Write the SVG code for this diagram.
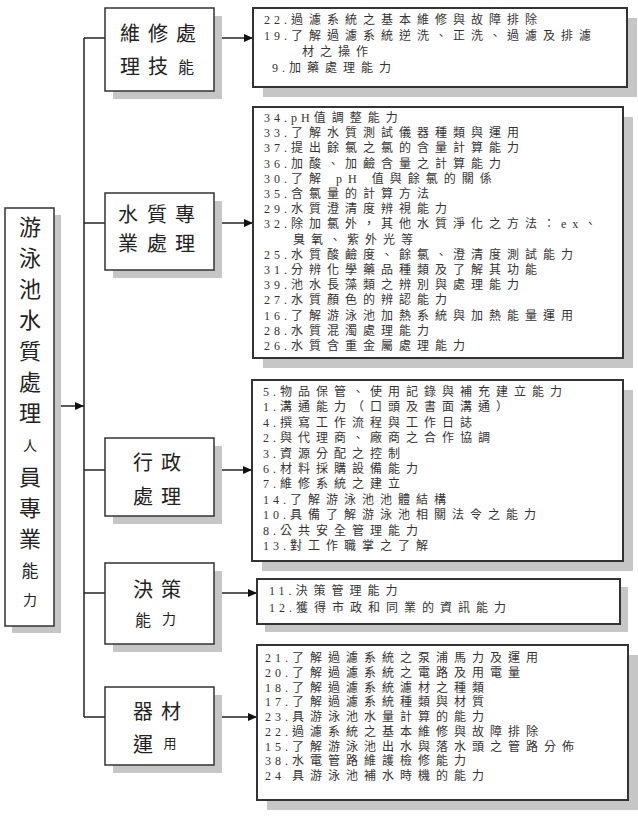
<svg xmlns="http://www.w3.org/2000/svg" width="638" height="823" viewBox="0 0 638 823">
<style>
.bg{fill:#ffffff}
.sh{fill:#c6c6c6}
.box{fill:#ffffff;stroke:#333333;stroke-width:1.5}
.tbox{fill:#ffffff;stroke:#333333;stroke-width:2}
.ln{stroke:#222222;stroke-width:1.5;fill:none}
.t{font-family:"Liberation Serif","Noto Sans CJK TC",serif;font-size:12px;letter-spacing:6px;fill:#333333}
.n{letter-spacing:4px}
.big{font-family:"Noto Sans CJK TC",sans-serif;font-size:22px;fill:#222222;text-anchor:middle}
.cat{font-family:"Noto Sans CJK TC",sans-serif;font-size:20px;fill:#222222;text-anchor:middle}
</style>
<defs>
<marker id="ah" markerWidth="9" markerHeight="8" refX="9" refY="4" orient="auto" markerUnits="userSpaceOnUse">
<path d="M0,0 L9,4 L0,8 Z" fill="#111111"/>
</marker>
</defs>
<rect class="bg" x="0" y="0" width="638" height="823"/>

<g id="connectors">
<line class="ln" x1="61" y1="406" x2="84" y2="406" marker-end="url(#ah)"/>
<line class="ln" x1="84" y1="38" x2="84" y2="717"/>
<line class="ln" x1="84" y1="38" x2="105" y2="38"/>
<line class="ln" x1="84" y1="223" x2="105" y2="223"/>
<line class="ln" x1="84" y1="470" x2="105" y2="470"/>
<line class="ln" x1="84" y1="593" x2="105" y2="593"/>
<line class="ln" x1="84" y1="717" x2="105" y2="717"/>
<line class="ln" x1="214" y1="38" x2="253" y2="38" marker-end="url(#ah)"/>
<line class="ln" x1="214" y1="223" x2="253" y2="223" marker-end="url(#ah)"/>
<line class="ln" x1="214" y1="470" x2="252" y2="470" marker-end="url(#ah)"/>
<line class="ln" x1="214" y1="593" x2="257" y2="593" marker-end="url(#ah)"/>
<line class="ln" x1="214" y1="717" x2="257" y2="717" marker-end="url(#ah)"/>
</g>

<g id="root">
<rect class="sh" x="12" y="215" width="49" height="418"/>
<rect class="box" x="5" y="208" width="49" height="418"/>
<text class="big" x="30 30 30 30 30 30 30" y="235 266 297 328 359 390 421">游泳池水質處理</text>
<text class="big" x="30" y="451" style="font-size:14px">人</text>
<text class="big" x="30 30 30" y="485 516 547">員專業</text>
<text class="big" x="30" y="577" style="font-size:17px">能</text>
<text class="big" x="30" y="605" style="font-size:14px">力</text>
</g>

<g id="cat1">
<rect class="sh" x="113" y="16" width="109" height="83"/>
<rect class="box" x="105" y="8" width="109" height="83"/>
<text class="cat" x="130 158 186" y="41">維修處</text>
<text class="cat" x="130 158" y="74">理技</text>
<text class="cat" x="186" y="73" style="font-size:16px">能</text>
</g>

<g id="cat2">
<rect class="sh" x="113" y="201" width="109" height="77"/>
<rect class="box" x="105" y="193" width="109" height="77"/>
<text class="cat" x="128 157 185" y="222">水質專</text>
<text class="cat" x="128 157 185" y="251">業處理</text>
</g>

<g id="cat3">
<rect class="sh" x="113" y="446" width="109" height="78"/>
<rect class="box" x="105" y="438" width="109" height="78"/>
<text class="cat" x="143 171" y="470">行政</text>
<text class="cat" x="143 171" y="504">處理</text>
</g>

<g id="cat4">
<rect class="sh" x="113" y="571" width="109" height="81"/>
<rect class="box" x="105" y="563" width="109" height="81"/>
<text class="cat" x="143 171" y="597">決策</text>
<text class="cat" x="143" y="626" style="font-size:16px">能</text>
<text class="cat" x="169" y="624" style="font-size:14px">力</text>
</g>

<g id="cat5">
<rect class="sh" x="113" y="695" width="109" height="78"/>
<rect class="box" x="105" y="687" width="109" height="78"/>
<text class="cat" x="143 171" y="719">器材</text>
<text class="cat" x="143" y="752">運</text>
<text class="cat" x="170" y="748" style="font-size:13px">用</text>
</g>

<g id="list1">
<rect class="sh" x="263" y="18" width="374" height="79"/>
<rect class="tbox" x="253" y="8" width="374" height="79"/>
<text class="t" x="264" y="24"><tspan class="n">22.</tspan>過濾系統之基本維修與故障排除</text>
<text class="t" x="264" y="40"><tspan class="n">19.</tspan>了解過濾系統逆洗、正洗、過濾及排濾</text>
<text class="t" x="302" y="56">材之操作</text>
<text class="t" x="272" y="72"><tspan class="n">9.</tspan>加藥處理能力</text>
</g>

<g id="list2">
<rect class="sh" x="263" y="117" width="370" height="251"/>
<rect class="tbox" x="253" y="107" width="370" height="251"/>
<text class="t" x="264" y="122"><tspan class="n">34.pH</tspan>值調整能力</text>
<text class="t" x="264" y="137.2"><tspan class="n">33.</tspan>了解水質測試儀器種類與運用</text>
<text class="t" x="264" y="152.4"><tspan class="n">37.</tspan>提出餘氯之氯的含量計算能力</text>
<text class="t" x="264" y="167.6"><tspan class="n">36.</tspan>加酸、加鹼含量之計算能力</text>
<text class="t" x="264" y="182.8"><tspan class="n">30.</tspan>了解 pH 值與餘氯的關係</text>
<text class="t" x="264" y="198"><tspan class="n">35.</tspan>含氯量的計算方法</text>
<text class="t" x="264" y="213.2"><tspan class="n">29.</tspan>水質澄清度辨視能力</text>
<text class="t" x="264" y="228.4"><tspan class="n">32.</tspan>除加氯外，其他水質淨化之方法：ex、</text>
<text class="t" x="293" y="243.6">臭氧、紫外光等</text>
<text class="t" x="264" y="258.8"><tspan class="n">25.</tspan>水質酸鹼度、餘氯、澄清度測試能力</text>
<text class="t" x="264" y="274"><tspan class="n">31.</tspan>分辨化學藥品種類及了解其功能</text>
<text class="t" x="264" y="289.2"><tspan class="n">39.</tspan>池水長藻類之辨別與處理能力</text>
<text class="t" x="264" y="304.4"><tspan class="n">27.</tspan>水質顏色的辨認能力</text>
<text class="t" x="264" y="319.6"><tspan class="n">16.</tspan>了解游泳池加熱系統與加熱能量運用</text>
<text class="t" x="264" y="334.8"><tspan class="n">28.</tspan>水質混濁處理能力</text>
<text class="t" x="264" y="350"><tspan class="n">26.</tspan>水質含重金屬處理能力</text>
</g>

<g id="list3">
<rect class="sh" x="262" y="390" width="371" height="181"/>
<rect class="tbox" x="252" y="380" width="371" height="181"/>
<text class="t" x="263" y="396"><tspan class="n">5.</tspan>物品保管、使用記錄與補充建立能力</text>
<text class="t" x="263" y="411.4"><tspan class="n">1.</tspan>溝通能力（口頭及書面溝通）</text>
<text class="t" x="263" y="426.8"><tspan class="n">4.</tspan>撰寫工作流程與工作日誌</text>
<text class="t" x="263" y="442.2"><tspan class="n">2.</tspan>與代理商、廠商之合作協調</text>
<text class="t" x="263" y="457.6"><tspan class="n">3.</tspan>資源分配之控制</text>
<text class="t" x="263" y="473"><tspan class="n">6.</tspan>材料採購設備能力</text>
<text class="t" x="263" y="488.4"><tspan class="n">7.</tspan>維修系統之建立</text>
<text class="t" x="263" y="503.8"><tspan class="n">14.</tspan>了解游泳池池體結構</text>
<text class="t" x="263" y="519.2"><tspan class="n">10.</tspan>具備了解游泳池相關法令之能力</text>
<text class="t" x="263" y="534.6"><tspan class="n">8.</tspan>公共安全管理能力</text>
<text class="t" x="263" y="550"><tspan class="n">13.</tspan>對工作職掌之了解</text>
</g>

<g id="list4">
<rect class="sh" x="265" y="587" width="363" height="45"/>
<rect class="tbox" x="257" y="579" width="363" height="45"/>
<text class="t" x="269" y="595"><tspan class="n">11.</tspan>決策管理能力</text>
<text class="t" x="269" y="612"><tspan class="n">12.</tspan>獲得市政和同業的資訊能力</text>
</g>

<g id="list5">
<rect class="sh" x="267" y="655" width="371" height="155"/>
<rect class="tbox" x="257" y="645" width="371" height="155"/>
<text class="t" x="265" y="662"><tspan class="n">21.</tspan>了解過濾系統之泵浦馬力及運用</text>
<text class="t" x="265" y="676.75"><tspan class="n">20.</tspan>了解過濾系統之電路及用電量</text>
<text class="t" x="265" y="691.5"><tspan class="n">18.</tspan>了解過濾系統濾材之種類</text>
<text class="t" x="265" y="706.25"><tspan class="n">17.</tspan>了解過濾系統種類與材質</text>
<text class="t" x="265" y="721"><tspan class="n">23.</tspan>具游泳池水量計算的能力</text>
<text class="t" x="265" y="735.75"><tspan class="n">22.</tspan>過濾系統之基本維修與故障排除</text>
<text class="t" x="265" y="750.5"><tspan class="n">15.</tspan>了解游泳池出水與落水頭之管路分佈</text>
<text class="t" x="265" y="765.25"><tspan class="n">38.</tspan>水電管路維護檢修能力</text>
<text class="t" x="265" y="780"><tspan class="n">24 </tspan>具游泳池補水時機的能力</text>
</g>
</svg>
